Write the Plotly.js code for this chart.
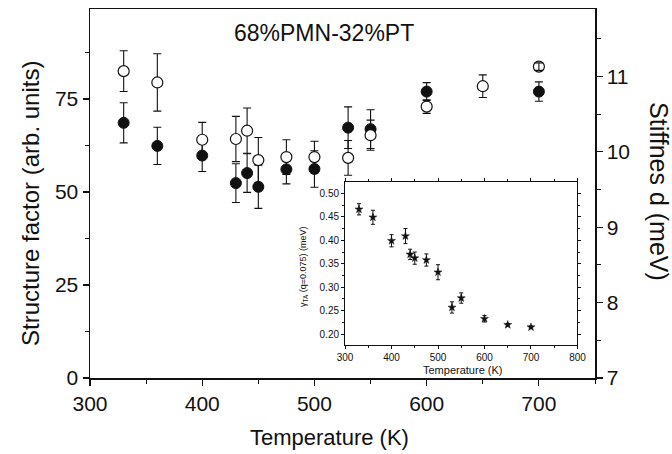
<!DOCTYPE html>
<html>
<head>
<meta charset="utf-8">
<script src="https://cdn.plot.ly/plotly-3.0.1.min.js"></script>
<style>
  html, body { margin: 0; padding: 0; background: #fff; }
  #chart { width: 672px; height: 454px; }
</style>
</head>
<body>
<div id="chart"></div>
<script>
// Structure factor (filled circles, left axis)
const sfTemps = [330, 360, 400, 430, 440, 450, 475, 500, 530, 550, 600, 700];
const structureFactor = [68.6, 62.4, 59.8, 52.4, 55.1, 51.4, 56.1, 56.2, 67.3, 66.9, 77.0, 77.0];
const structureErr = [5.4, 5.0, 4.3, 5.2, 5.2, 5.8, 3.9, 4.9, 5.6, 5.2, 2.4, 2.6];

// Stiffness d (open circles, right axis)
const stTemps = [330, 360, 400, 430, 440, 450, 475, 500, 530, 550, 600, 650, 700];
const stiffness = [11.07, 10.92, 10.16, 10.17, 10.28, 9.89, 9.93, 9.93, 9.92, 10.22, 10.60, 10.87, 11.13];
const stiffnessErr = [0.27, 0.38, 0.23, 0.30, 0.30, 0.30, 0.23, 0.21, 0.23, 0.20, 0.09, 0.15, 0.05];

// TA phonon damping at q = 0.075 (inset)
const dampTemps = [330, 360, 400, 430, 440, 450, 475, 500, 530, 550, 600, 650, 700];
const damping = [0.466, 0.449, 0.399, 0.409, 0.370, 0.362, 0.358, 0.332, 0.257, 0.277, 0.233, 0.220, 0.215];
const dampingErr = [0.012, 0.015, 0.013, 0.016, 0.011, 0.013, 0.013, 0.016, 0.012, 0.011, 0.007, 0.003, 0.002];

// Tick values / labels
const mainXTicks = [300, 400, 500, 600, 700];
const leftTicks = [0, 25, 50, 75];
const rightTicks = [7, 8, 9, 10, 11];
const insetXTicks = [300, 400, 500, 600, 700, 800];
const insetYTicks = [0.20, 0.25, 0.30, 0.35, 0.40, 0.45, 0.50];

const FONT = 'Liberation Sans, Arial, Helvetica, sans-serif';
const INK = '#111';

// Error bars shorter than the open-circle radius are drawn over the marker
const innerCapIdx = stiffnessErr.map((e, i) => i).filter(i => stiffnessErr[i] < 0.08);

const traces = [
  {
    x: sfTemps, y: structureFactor, type: 'scatter', mode: 'markers',
    xaxis: 'x', yaxis: 'y',
    marker: { symbol: 'circle', size: 11, color: INK, line: { color: INK, width: 1 } },
    error_y: { type: 'data', array: structureErr, visible: true, color: INK, thickness: 1.1, width: 4 },
    hoverinfo: 'x+y'
  },
  {
    x: stTemps, y: stiffness, type: 'scatter', mode: 'markers',
    xaxis: 'x', yaxis: 'y2',
    marker: { symbol: 'circle', size: 11, color: '#fff', line: { color: INK, width: 1.2 } },
    error_y: { type: 'data', array: stiffnessErr, visible: true, color: INK, thickness: 1.1, width: 4 },
    hoverinfo: 'x+y'
  },
  {
    x: innerCapIdx.map(i => stTemps[i]), y: innerCapIdx.map(i => stiffness[i]),
    type: 'scatter', mode: 'markers', xaxis: 'x', yaxis: 'y2',
    marker: { size: 11, opacity: 0 },
    error_y: { type: 'data', array: innerCapIdx.map(i => stiffnessErr[i]), visible: true, color: INK, thickness: 1.1, width: 4 },
    hoverinfo: 'skip'
  },
  {
    x: dampTemps, y: damping, type: 'scatter', mode: 'markers',
    xaxis: 'x2', yaxis: 'y3',
    marker: { symbol: 'star', size: 6, color: INK, line: { color: INK, width: 0.5 } },
    error_y: { type: 'data', array: dampingErr, visible: true, color: INK, thickness: 1, width: 2 },
    hoverinfo: 'x+y'
  }
];

const layout = {
  width: 672, height: 454,
  margin: { l: 90, r: 77, t: 9, b: 76 },
  paper_bgcolor: '#fff', plot_bgcolor: '#fff',
  showlegend: false,
  font: { family: FONT, color: INK },
  xaxis: {
    range: [300, 750], tickvals: mainXTicks, ticktext: mainXTicks.map(String),
    ticks: 'outside', ticklen: 6, tickwidth: 1.2, tickcolor: INK,
    minor: { dtick: 50, tick0: 300, ticks: 'outside', ticklen: 4, tickwidth: 1, tickcolor: INK },
    showline: true, linecolor: INK, linewidth: 1.5, mirror: true,
    showgrid: false, zeroline: false,
    tickfont: { size: 21, family: FONT, color: INK }
  },
  yaxis: {
    range: [0, 99.2], tickvals: leftTicks, ticktext: leftTicks.map(String),
    ticks: 'outside', ticklen: 6, tickwidth: 1.2, tickcolor: INK,
    minor: { dtick: 12.5, tick0: 0, ticks: 'outside', ticklen: 4, tickwidth: 1, tickcolor: INK },
    showline: true, linecolor: INK, linewidth: 1.5,
    showgrid: false, zeroline: false,
    tickfont: { size: 21, family: FONT, color: INK }
  },
  yaxis2: {
    overlaying: 'y', side: 'right', anchor: 'x',
    range: [7, 11.894], tickvals: rightTicks, ticktext: rightTicks.map(String),
    ticks: 'outside', ticklen: 6, tickwidth: 1.2, tickcolor: INK,
    minor: { dtick: 0.5, tick0: 7, ticks: 'outside', ticklen: 4, tickwidth: 1, tickcolor: INK },
    showline: true, linecolor: INK, linewidth: 1.5,
    showgrid: false, zeroline: false,
    tickfont: { size: 21, family: FONT, color: INK }
  },
  xaxis2: {
    domain: [0.505, 0.9653], anchor: 'y3',
    range: [300, 800], tickvals: insetXTicks, ticktext: insetXTicks.map(String),
    ticks: 'outside', ticklen: 3, tickwidth: 1, tickcolor: INK,
    minor: { dtick: 50, tick0: 300, ticks: 'outside', ticklen: 2, tickwidth: 1, tickcolor: INK },
    showline: true, linecolor: INK, linewidth: 1, mirror: 'allticks',
    showgrid: false, zeroline: false,
    tickfont: { size: 10, family: FONT, color: INK }
  },
  yaxis3: {
    domain: [0.0894, 0.531], anchor: 'x2',
    range: [0.177, 0.524], tickvals: insetYTicks, ticktext: insetYTicks.map(v => v.toFixed(2)),
    ticks: 'outside', ticklen: 3, tickwidth: 1, tickcolor: INK,
    minor: { dtick: 0.025, tick0: 0.2, ticks: 'outside', ticklen: 2, tickwidth: 1, tickcolor: INK },
    showline: true, linecolor: INK, linewidth: 1, mirror: 'allticks',
    showgrid: false, zeroline: false,
    tickfont: { size: 10, family: FONT, color: INK }
  },
  annotations: [
    {
      text: '68%PMN-32%PT', xref: 'paper', yref: 'paper', x: 0.464, y: 0.935,
      xanchor: 'center', yanchor: 'middle', showarrow: false,
      font: { size: 23, family: FONT, color: INK }
    },
    {
      text: 'Temperature (K)', xref: 'paper', yref: 'paper', x: 0.475, y: -0.160,
      xanchor: 'center', yanchor: 'middle', showarrow: false,
      font: { size: 22, family: FONT, color: INK }
    },
    {
      text: 'Structure factor (arb. units)', xref: 'paper', yref: 'paper', x: -0.119, y: 0.474,
      xanchor: 'center', yanchor: 'middle', showarrow: false, textangle: -90,
      font: { size: 24, family: FONT, color: INK }
    },
    {
      text: 'Stiffnes d (meV)', xref: 'paper', yref: 'paper', x: 1.128, y: 0.505,
      xanchor: 'center', yanchor: 'middle', showarrow: false, textangle: 90,
      font: { size: 25, family: FONT, color: INK }
    },
    {
      text: 'Temperature (K)', xref: 'paper', yref: 'paper', x: 0.7386, y: 0.022,
      xanchor: 'center', yanchor: 'middle', showarrow: false,
      font: { size: 11, family: FONT, color: INK }
    },
    {
      text: 'γ<sub>TA</sub> (q=0.075) (meV)', xref: 'paper', yref: 'paper', x: 0.4238, y: 0.301,
      xanchor: 'center', yanchor: 'middle', showarrow: false, textangle: -90,
      font: { size: 9, family: FONT, color: INK }
    }
  ]
};

Plotly.newPlot('chart', traces, layout, { displayModeBar: false, staticPlot: true });
</script>
</body>
</html>
